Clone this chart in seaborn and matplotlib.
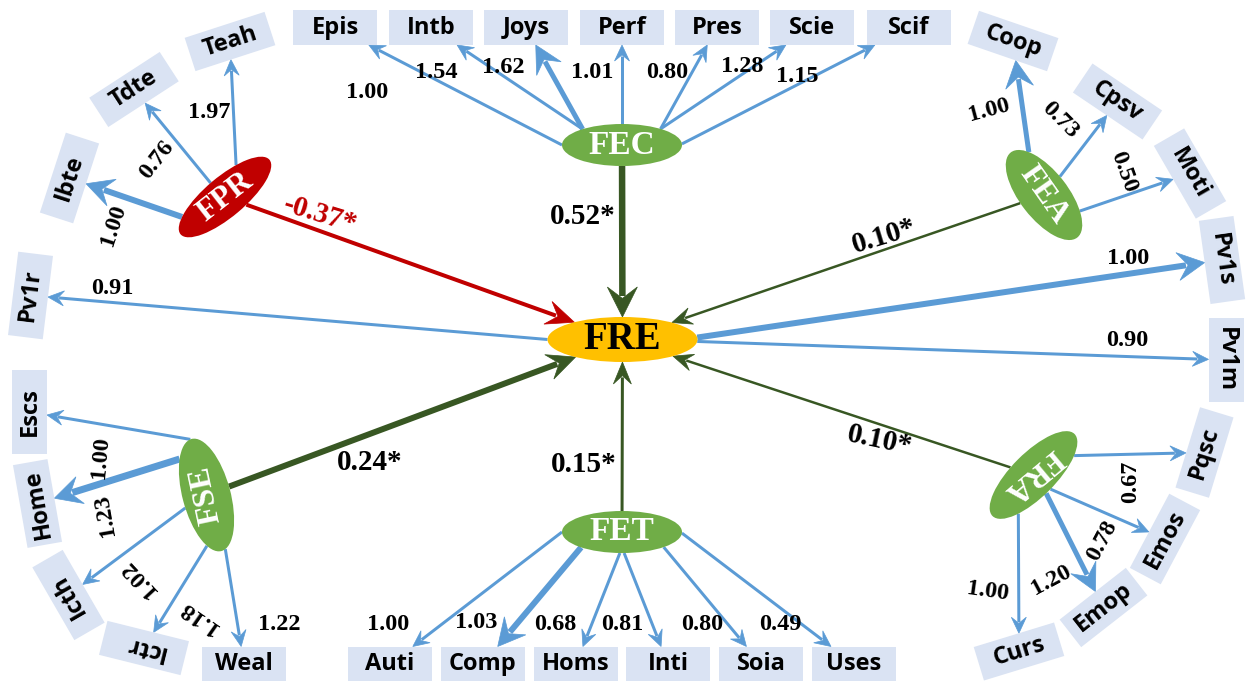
import numpy as np
import matplotlib
matplotlib.use("Agg")
import matplotlib.pyplot as plt
from matplotlib.patches import Ellipse, Rectangle, Polygon
import seaborn as sns

# ---------------------------------------------------------------
# Structural model: paths from each construct into FRE
# ---------------------------------------------------------------
sources = ["FEC", "FPR", "FEA", "FSE", "FET", "FRA"]
path_coefs = [0.52, -0.37, 0.10, 0.24, 0.15, 0.10]

# ---------------------------------------------------------------
# Measurement model: indicators and loadings for each construct
# ---------------------------------------------------------------
fec_items = ["Epis", "Intb", "Joys", "Perf", "Pres", "Scie", "Scif"]
fec_loads = [1.00, 1.54, 1.62, 1.01, 0.80, 1.28, 1.15]
fpr_items = ["Ibte", "Tdte", "Teah"]
fpr_loads = [1.00, 0.76, 1.97]
fea_items = ["Coop", "Cpsv", "Moti"]
fea_loads = [1.00, 0.73, 0.50]
fre_items = ["Pv1r", "Pv1s", "Pv1m"]
fre_loads = [0.91, 1.00, 0.90]
fse_items = ["Escs", "Home", "Icth", "Ictr", "Weal"]
fse_loads = [1.00, 1.23, 1.02, 1.18, 1.22]
fet_items = ["Auti", "Comp", "Homs", "Inti", "Soia", "Uses"]
fet_loads = [1.00, 1.03, 0.68, 0.81, 0.80, 0.49]
fra_items = ["Pqsc", "Emos", "Emop", "Curs"]
fra_loads = [0.67, 0.78, 1.20, 1.00]

measurement = {
    "FEC": (fec_items, fec_loads),
    "FPR": (fpr_items, fpr_loads),
    "FEA": (fea_items, fea_loads),
    "FRE": (fre_items, fre_loads),
    "FSE": (fse_items, fse_loads),
    "FET": (fet_items, fet_loads),
    "FRA": (fra_items, fra_loads),
}

# ---------------------------------------------------------------
# Styling and layout (pixel space, y grows downward)
# ---------------------------------------------------------------
W, H = 1246, 681
GOLD, GREEN, RED = "#FFC000", "#70AD47", "#C00000"
DKGREEN, BLUE, BOXFC = "#385723", "#5B9BD5", "#DAE3F3"
SERIF = "Liberation Serif"
SANS = "Open Sans"
BW, BH = 84, 35

# construct ellipses: centre, semi-axes, tilt (anticlockwise on screen), label tilt
ELL = {
    "FRE": dict(c=(622.5, 339.5), a=75, b=22.5, rot=0, trot=0, fc=GOLD, tc="black", fs=28),
    "FEC": dict(c=(622, 145), a=60, b=21, rot=0, trot=0, fc=GREEN, tc="white", fs=24),
    "FET": dict(c=(622, 532), a=60, b=21, rot=0, trot=0, fc=GREEN, tc="white", fs=24),
    "FPR": dict(c=(225, 197), a=58, b=20, rot=40, trot=38, fc=RED, tc="white", fs=23),
    "FEA": dict(c=(1044, 195), a=54, b=24, rot=-52, trot=-55, fc=GREEN, tc="white", fs=23),
    "FSE": dict(c=(206.5, 495), a=58, b=24, rot=105, trot=102, fc=GREEN, tc="white", fs=23),
    "FRA": dict(c=(1033.5, 475), a=58, b=22, rot=45, trot=220, fc=GREEN, tc="white", fs=23),
}

# indicator boxes: centre x, centre y, tilt
BOX = {
    "Epis": (335, 27.5, 0), "Intb": (431, 27.5, 0), "Joys": (526, 27.5, 0),
    "Perf": (622, 27.5, 0), "Pres": (717, 27.5, 0), "Scie": (812, 27.5, 0),
    "Scif": (909, 27.5, 0),
    "Auti": (390, 664, 0), "Comp": (483, 664, 0), "Homs": (576, 664, 0),
    "Inti": (668, 664, 0), "Soia": (761, 664, 0), "Uses": (854, 664, 0),
    "Weal": (244, 664, 0),
    "Teah": (230, 41.5, 18), "Tdte": (134, 89.5, 33), "Ibte": (69.5, 178, 72),
    "Pv1r": (30.5, 295.5, 83), "Escs": (29.5, 412, 90), "Home": (37.5, 503.5, 100),
    "Icth": (68.5, 595, 120), "Ictr": (144, 648, 166),
    "Coop": (1013, 41, -19), "Cpsv": (1117.5, 101.5, -34), "Moti": (1190, 173.5, -60),
    "Pv1s": (1222, 260, -82), "Pv1m": (1226, 360, -90),
    "Pqsc": (1204.5, 452.5, 73), "Emos": (1165, 539, 62), "Emop": (1103.5, 607.5, 38),
    "Curs": (1019, 651.5, 17),
}

# where each loading arrow leaves its construct (parametric angle on the ellipse)
T0 = {
    "Epis": 180, "Intb": 131, "Joys": 131, "Perf": 90, "Pres": 50, "Scie": 50, "Scif": 3,
    "Auti": 180, "Comp": 227, "Homs": 268, "Inti": 272, "Soia": 314, "Uses": 357,
    "Ibte": 142, "Tdte": 92, "Teah": 60,
    "Coop": 143, "Cpsv": 95, "Moti": 50,
    "Pv1r": 180, "Pv1s": 5, "Pv1m": 355,
    "Escs": 3, "Home": 44, "Icth": 97, "Ictr": 148, "Weal": 190,
    "Pqsc": 317, "Emos": 272, "Emop": 266, "Curs": 229,
}

# loading label placement: x, y, rotation
LAB = {
    "Epis": (367, 92.5, 0), "Intb": (436, 72, 0), "Joys": (503, 67.5, 0),
    "Perf": (592, 72, 0), "Pres": (667, 72, 0), "Scie": (742, 66, 0), "Scif": (797, 77, 0),
    "Auti": (388, 624, 0), "Comp": (476, 622, 0), "Homs": (555, 624, 0),
    "Inti": (622, 625, 0), "Soia": (702, 625, 0), "Uses": (780, 625, 0),
    "Teah": (209, 112, 0), "Tdte": (157, 160, 52), "Ibte": (113, 225, 72),
    "Coop": (989, 110, 15), "Cpsv": (1060, 120, -45), "Moti": (1124, 172, -70),
    "Pv1r": (112, 288, 0), "Pv1s": (1128, 258, 0), "Pv1m": (1127, 340, 0),
    "Escs": (100, 457, 85), "Home": (105, 515, 100), "Icth": (139, 578, 133),
    "Ictr": (198, 617, 145), "Weal": (279, 624, 0),
    "Pqsc": (1131, 482, 90), "Emos": (1102, 541, 62), "Emop": (1051, 580, 28),
    "Curs": (988, 591, -8),
}

# emphasised loading arrows: shaft width (px)
THICK = {"Ibte": 6, "Joys": 5, "Coop": 5, "Pv1s": 6, "Home": 7, "Comp": 6, "Emop": 5}

# structural arrows: colour, shaft width, head length, head width, label x, y, rotation
PATH_STYLE = {
    "FEC": (DKGREEN, 6.5, 30, 30, 583, 216, 0),
    "FPR": (RED, 4.0, 28, 24, 320, 215, -17),
    "FEA": (DKGREEN, 2.5, 20, 17, 884, 236, 17),
    "FSE": (DKGREEN, 6.0, 28, 26, 370, 463, 0),
    "FET": (DKGREEN, 3.0, 22, 18, 584, 464, 0),
    "FRA": (DKGREEN, 2.5, 20, 17, 880, 440, -12),
}


# ---------------------------------------------------------------
# Geometry helpers
# ---------------------------------------------------------------
def to_screen(c, rot, u, v):
    r = np.deg2rad(rot)
    dx = u * np.cos(r) - v * np.sin(r)
    dy = u * np.sin(r) + v * np.cos(r)
    return np.array([c[0] + dx, c[1] - dy])


def to_local(c, rot, p):
    dx, dy = p[0] - c[0], -(p[1] - c[1])
    r = np.deg2rad(rot)
    return dx * np.cos(r) + dy * np.sin(r), -dx * np.sin(r) + dy * np.cos(r)


def on_ellipse(name, t):
    e = ELL[name]
    t = np.deg2rad(t)
    return to_screen(e["c"], e["rot"], e["a"] * np.cos(t), e["b"] * np.sin(t))


def leave_ellipse(name, toward):
    e = ELL[name]
    c = np.array(e["c"], float)
    u, v = to_local(c, e["rot"], toward)
    s = 1 / np.hypot(u / e["a"], v / e["b"])
    return c + s * (np.asarray(toward, float) - c)


def enter_ellipse(p0, name):
    e = ELL[name]
    c = np.array(e["c"], float)
    u, v = to_local(c, e["rot"], p0)
    m = np.hypot(u / e["a"], v / e["b"])
    return p0 + (1 - 1 / m) * (c - p0)


def enter_box(p0, name):
    cx, cy, rot = BOX[name]
    c = np.array([cx, cy], float)
    u, v = to_local(c, rot, p0)
    m = max(abs(u) / (BW / 2), abs(v) / (BH / 2))
    return p0 + (1 - 1 / m) * (c - p0)


PX2PT = 72 / 100


def arrow(ax, p0, p1, color, lw_px, head_len, head_w, z=2):
    p0, p1 = np.asarray(p0, float), np.asarray(p1, float)
    d = p1 - p0
    d /= np.hypot(*d)
    n = np.array([-d[1], d[0]])
    back = p1 - head_len * d
    notch = p1 - 0.62 * head_len * d
    shaft_end = p1 - 0.7 * head_len * d
    ax.plot([p0[0], shaft_end[0]], [p0[1], shaft_end[1]], color=color,
            lw=lw_px * PX2PT, solid_capstyle="butt", zorder=z)
    head = Polygon([p1, back + n * head_w / 2, notch, back - n * head_w / 2],
                   closed=True, fc=color, ec=color, lw=0.5, zorder=z)
    ax.add_patch(head)


# ---------------------------------------------------------------
# Figure
# ---------------------------------------------------------------
sns.set_theme(style="white")
plt.rcParams["font.family"] = [SERIF, "DejaVu Sans"]

fig = plt.figure(figsize=(W / 100, H / 100), dpi=100)
ax = fig.add_axes([0, 0, 1, 1])
ax.set_xlim(0, W)
ax.set_ylim(H, 0)
ax.set_aspect("equal")
ax.axis("off")

# loadings: construct -> indicator
for latent, (items, loads) in measurement.items():
    for item, val in zip(items, loads):
        start = on_ellipse(latent, T0[item])
        end = enter_box(start, item)
        if item in THICK:
            arrow(ax, start, end, BLUE, THICK[item], 27, 28)
        else:
            arrow(ax, start, end, BLUE, 3.0, 16, 15)
        lx, ly, lr = LAB[item]
        ax.text(lx, ly, f"{val:.2f}", rotation=lr, rotation_mode="anchor",
                ha="center", va="center", fontsize=17.5, fontweight="bold",
                family=SERIF, color="black", zorder=5)

# structural paths: construct -> FRE
fre_c = np.array(ELL["FRE"]["c"], float)
for src, coef in zip(sources, path_coefs):
    color, lw, hl, hw, lx, ly, lr = PATH_STYLE[src]
    start = leave_ellipse(src, fre_c)
    end = enter_ellipse(start, "FRE")
    arrow(ax, start, end, color, lw, hl, hw, z=2.5)
    ax.text(lx, ly, f"{coef:.2f}*", rotation=lr, rotation_mode="anchor",
            ha="center", va="center", fontsize=21, fontweight="bold",
            family=SERIF, color=RED if coef < 0 else "black", zorder=5)

# construct ellipses
for name, e in ELL.items():
    ax.add_patch(Ellipse(e["c"], 2 * e["a"], 2 * e["b"], angle=-e["rot"],
                         fc=e["fc"], ec="none", zorder=4))
    ax.text(e["c"][0], e["c"][1], name, rotation=e["trot"], rotation_mode="anchor",
            ha="center", va="center", fontsize=e["fs"], fontweight="bold",
            family=SERIF, color=e["tc"], zorder=5)

# indicator boxes
for name, (cx, cy, rot) in BOX.items():
    ax.add_patch(Rectangle((cx - BW / 2, cy - BH / 2), BW, BH, angle=-rot,
                           rotation_point="center", fc=BOXFC, ec="none", zorder=4))
    ax.text(cx, cy, name, rotation=rot, rotation_mode="anchor", ha="center",
            va="center", fontsize=17, fontweight="bold", family=SANS,
            color="black", zorder=5)

fig.savefig("out.png", dpi=100, facecolor="white")
